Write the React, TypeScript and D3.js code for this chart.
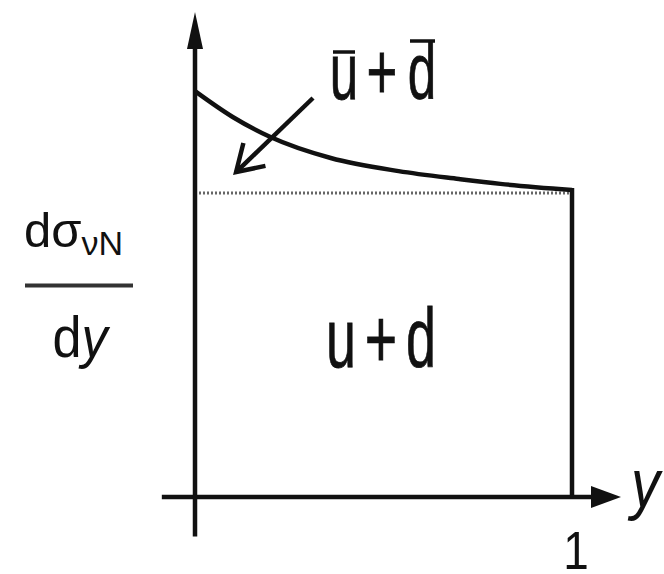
import React from "react";
import * as d3 from "d3";

// Rapidity distribution of the neutrino–nucleon cross section:
// flat valence (u + d) plateau plus a sea (ū + d̄) rise at small y.
const yGrid = [0, 0.1, 0.2, 0.36, 0.54, 0.7, 0.81, 1.0];
const totalXsec = [1.335, 1.25, 1.184, 1.115, 1.072, 1.046, 1.03, 1.01];
const valenceLevel = 1.0;
const xTickValues = [1];
const xTickLabels = ["1"];

const W = 664;
const H = 574;
const INK = "#111";
const FONT = "Liberation Sans, Arial, Helvetica, sans-serif";

export default function App() {
  const x = d3.scaleLinear().domain([0, 1]).range([195, 572]);
  const y = d3.scaleLinear().domain([0, 1]).range([497, 193]);

  const curvePts: [number, number][] = yGrid.map((g, i) => [g, totalXsec[i]]);
  const line = d3
    .line<[number, number]>()
    .x((d) => x(d[0]))
    .y((d) => y(d[1]))
    .curve(d3.curveMonotoneX);

  // axis extents (data units)
  const xAxisStart = x(-0.088);
  const xAxisEnd = x(1.13);
  const yAxisBottom = y(-0.13);
  const yAxisTop = y(1.595);
  const x0 = x(0);
  const y0 = y(0);

  const endVal = totalXsec[totalXsec.length - 1];

  // annotation arrow (data units)
  const arrFrom: [number, number] = [0.313, 1.3125];
  const arrTo: [number, number] = [0.109, 1.069];
  const ax1 = x(arrFrom[0]);
  const ay1 = y(arrFrom[1]);
  const ax2 = x(arrTo[0]);
  const ay2 = y(arrTo[1]);
  const ang = Math.atan2(ay2 - ay1, ax2 - ax1);
  const wing = 30;
  const spread = (32 * Math.PI) / 180;
  const w1 = [ax2 - wing * Math.cos(ang - spread), ay2 - wing * Math.sin(ang - spread)];
  const w2 = [ax2 - wing * Math.cos(ang + spread), ay2 - wing * Math.sin(ang + spread)];

  const narrow = (cx: number, base: number, size: number, ch: string, sx = 0.64) => (
    <text
      key={ch + cx + base}
      transform={`translate(${cx},${base}) scale(${sx},1)`}
      textAnchor="middle"
      fontSize={size}
      fontFamily={FONT}
      fill={INK}
      stroke={INK}
      strokeWidth={0.8}
    >
      {ch}
    </text>
  );

  return (
    <svg
      width={W}
      height={H}
      viewBox={`0 0 ${W} ${H}`}
      style={{ position: "absolute", left: 0, top: 0, background: "#fff" }}
    >
      <rect width={W} height={H} fill="#fff" />

      {/* valence plateau reference */}
      <line
        x1={x0 + 4}
        x2={x(1)}
        y1={y(valenceLevel)}
        y2={y(valenceLevel)}
        stroke="#666"
        strokeWidth={3}
        strokeDasharray="2 2"
      />

      {/* right edge at y = 1 */}
      <line x1={x(1)} x2={x(1)} y1={y(endVal) - 2} y2={y0} stroke={INK} strokeWidth={4.5} />

      {/* total distribution */}
      <path d={line(curvePts) ?? ""} fill="none" stroke={INK} strokeWidth={4.5} />

      {/* axes */}
      <line x1={xAxisStart} x2={xAxisEnd - 20} y1={y0} y2={y0} stroke={INK} strokeWidth={4.5} />
      <path
        d={`M${xAxisEnd},${y0} L${xAxisEnd - 30},${y0 - 11} L${xAxisEnd - 30},${y0 + 11} Z`}
        fill={INK}
      />
      <line x1={x0} x2={x0} y1={yAxisBottom} y2={yAxisTop + 25} stroke={INK} strokeWidth={4.5} />
      <path
        d={`M${x0},${yAxisTop} L${x0 - 8},${yAxisTop + 37} L${x0 + 8},${yAxisTop + 37} Z`}
        fill={INK}
      />

      {/* annotation arrow */}
      <line x1={ax1} y1={ay1} x2={ax2} y2={ay2} stroke={INK} strokeWidth={4.5} />
      <path
        d={`M${w1[0]},${w1[1]} L${ax2},${ay2} L${w2[0]},${w2[1]}`}
        fill="none"
        stroke={INK}
        strokeWidth={4.5}
        strokeLinejoin="miter"
      />

      {/* sea label ū + d̄ */}
      {narrow(344, 99, 80, "u")}
      {narrow(382, 99, 80, "+", 0.66)}
      {narrow(422, 99, 80, "d")}
      <line x1={333} x2={355} y1={52} y2={52} stroke={INK} strokeWidth={3.5} />
      <line x1={410} x2={435} y1={41} y2={41} stroke={INK} strokeWidth={3.5} />

      {/* valence label u + d */}
      {narrow(341, 367, 84, "u")}
      {narrow(381, 367, 84, "+", 0.66)}
      {narrow(421, 367, 84, "d")}

      {/* x axis title and tick */}
      <text
        transform={`translate(${xAxisEnd + 10},${y0 + 10}) scale(0.85,1)`}
        fontSize={68}
        fontStyle="italic"
        fontFamily={FONT}
        fill={INK}
      >
        y
      </text>
      {xTickValues.map((v, i) => (
        <text
          key={v}
          transform={`translate(${x(v) + 4},${569}) scale(0.85,1)`}
          textAnchor="middle"
          fontSize={54}
          fontFamily={FONT}
          fill={INK}
        >
          {xTickLabels[i]}
        </text>
      ))}

      {/* y axis title: dσνN / dy */}
      <text x={24} y={247} fontSize={49} fontFamily={FONT} fill={INK}>
        d<tspan>σ</tspan>
        <tspan fontSize={34} dy={8}>
          νN
        </tspan>
      </text>
      <line x1={25} x2={133} y1={285.5} y2={285.5} stroke="#333" strokeWidth={4} />
      <text
        transform={`translate(${80},${357}) scale(0.9,1)`}
        textAnchor="middle"
        fontSize={58}
        fontFamily={FONT}
        fill={INK}
      >
        d<tspan fontStyle="italic">y</tspan>
      </text>
    </svg>
  );
}
